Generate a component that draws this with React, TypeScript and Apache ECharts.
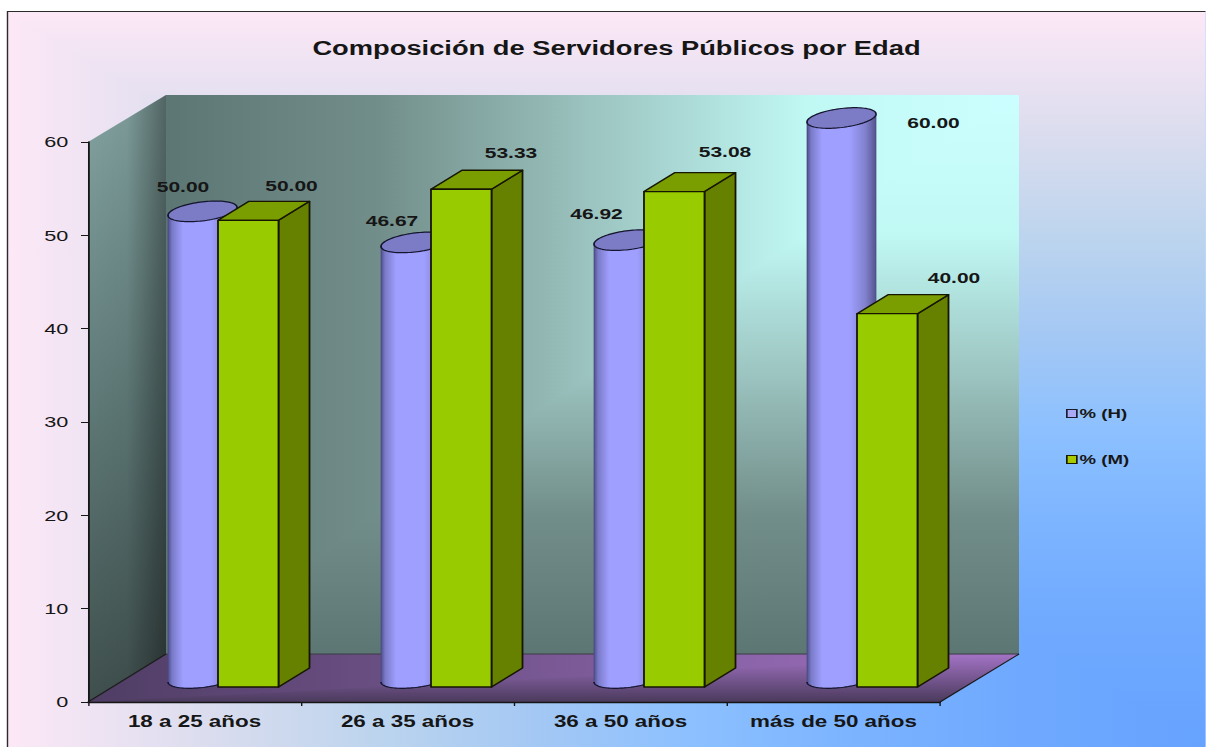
import React, { useEffect, useRef } from "react";
import * as echarts from "echarts";

const categories = ["18 a 25 años", "26 a 35 años", "36 a 50 años", "más de 50 años"];
const valuesH = [50.0, 46.67, 46.92, 60.0];
const valuesM = [50.0, 53.33, 53.08, 40.0];
const yTicks = { min: 0, max: 60, interval: 10 };
const titleText = "Composición de Servidores Públicos por Edad";

// The reference is a horizontally stretched picture: the chart is laid out narrower and stretched by CSS.
const S = 1.4;
const sx = (p: number) => p / S;
const W = 1206;
const H = 747;
const FONT = '"Liberation Sans", Arial, sans-serif';
const INK = "#161616";

// label placement relative to the category centre / value position (final pixels), hand-moved in the reference
const labelOffsetH = [[-11.5, -49], [-15.5, -45.5], [-24, -50], [100, -19.5]];
const labelOffsetM = [[97, -50], [103.5, -52], [104.5, -54.5], [120.5, -51.5]];

type Stops = [number, string][];
const lin = (x2: number, y2: number, stops: Stops) => ({
  type: "linear", x: 0, y: 0, x2, y2,
  colorStops: stops.map(([offset, color]) => ({ offset, color })),
});
const poly = (pts: number[][], fill: any, z = -10) => ({
  type: "polygon", silent: true, z,
  shape: { points: pts.map(([x, y]) => [sx(x), y]) },
  style: { fill },
});
const line = (pts: number[][], color: string, width: number, z = -13) => ({
  type: "polyline", silent: true, z,
  shape: { points: pts.map(([x, y]) => [sx(x), y]) },
  style: { stroke: color, lineWidth: width, fill: "none" },
});

// background: corner gradient, lightest along left and top edges, blue at the lower right
const bgStops: Stops = [
  [0, "#fde8f6"], [0.18, "#d8dcee"], [0.31, "#bcd4ee"], [0.44, "#a4c8f4"],
  [0.57, "#8cc0ff"], [0.7, "#7cb4ff"], [0.83, "#70aaff"], [1, "#66a3ff"],
];
// back wall: corner gradient, brightest at the upper right
const wallStops: Stops = [
  [0, "#5c7674"], [0.25, "#728e8a"], [0.5, "#9cc4c0"], [0.75, "#c0f8f4"], [1, "#ccffff"],
];
const wallStopsDown: Stops = wallStops.map(([o, c]) => [1 - o, c] as [number, string]).reverse();
const floorStopsRight: Stops = [[0, "#4f3d64"], [1, "#a474c6"]];
const floorStopsDown: Stops = [[0, "#a474c6"], [1, "#4a3a5c"]];

const bgElements = [
  poly([[7, 11], [W, 11], [W, H], [7, H]], lin(1, 0, bgStops), -31),
  poly([[7, 11], [W, 11], [W, H]], lin(0, 1, bgStops), -30),
  line([[7.5, H], [7.5, 11.5], [W, 11.5]], "#2a2a2a", 1, -27),
  // back wall
  poly([[166, 95], [1019, 95], [1019, 654], [166, 654]], lin(1, 0, wallStops), -21),
  poly([[166, 654], [1019, 654], [1019, 95]], lin(0, 1, wallStopsDown), -20),
  // side wall
  poly([[88, 142], [166, 95], [166, 654], [88, 702]], lin(0, 1, [[0, "#83a3a1"], [0.5, "#5f7a78"], [1, "#3f4f4d"]]), -17),
  poly([[88, 142], [166, 95], [166, 654], [88, 702]], lin(1, 0, [[0, "rgba(0,0,0,0)"], [0.5, "rgba(0,0,0,0.05)"], [1, "rgba(0,0,0,0.38)"]]), -16),
  // floor
  poly([[88, 702], [166, 654], [1019, 654], [940, 702]], lin(1, 0, floorStopsRight), -15),
  poly([[88, 702], [1019, 654], [940, 702]], lin(0, 1, floorStopsDown), -14),
  line([[88, 702], [166, 654]], "#1c1c1c", 1),
  line([[166, 654], [1019, 654]], "#3a3a44", 0.8),
  line([[940, 702], [1019, 654]], "#1c1c1c", 1),
];

const FLOOR_LIFT = 15;
const DEPTH_X = sx(31);
const DEPTH_Y = 19;

function labelEl(text: string, px: number, py: number, off: number[]) {
  return {
    type: "text",
    z2: 20,
    x: px + sx(off[0]),
    y: py + off[1],
    style: {
      text, x: 0, y: 0, fill: INK, align: "center", verticalAlign: "middle",
      font: `bold 15px ${FONT}`,
    },
  };
}

function renderCylinder(_p: any, api: any) {
  const i = api.value(0);
  const v = api.value(1);
  const top = api.coord([i, v]);
  const base = api.coord([i, 0]);
  const left = top[0] + sx(-26.5);
  const right = top[0] + sx(42.5);
  const cx = (left + right) / 2;
  const rx = (right - left) / 2;
  const ry = 9.5;
  const tilt = 4; // right end higher than left end
  const yTop = top[1] - FLOOR_LIFT - 9;
  const yBase = base[1] - FLOOR_LIFT - 9;
  const pt = (yc: number, a: number) => [cx + rx * Math.cos(a), yc + ry * Math.sin(a) - tilt * Math.cos(a)];
  const steps = 48;
  const bottomArc: number[][] = [];
  for (let k = 0; k <= steps; k++) bottomArc.push(pt(yBase, (Math.PI * k) / steps));
  const body = [pt(yTop, 0), ...bottomArc, pt(yTop, Math.PI)];
  const cap: number[][] = [];
  for (let k = 0; k < steps * 2; k++) cap.push(pt(yTop, (Math.PI * k) / steps));
  return {
    type: "group",
    children: [
      {
        type: "polygon", z2: 1, shape: { points: body },
        style: {
          fill: lin(1, 0, [[0, "#4e4e8c"], [0.06, "#7a7ac8"], [0.22, "#9f9fff"], [0.62, "#9f9fff"], [0.85, "#8080cc"], [1, "#54548f"]]),
          stroke: "#4a4a80", lineWidth: 0.6,
        },
      },
      { type: "polyline", z2: 1, shape: { points: bottomArc }, style: { fill: "none", stroke: "#15152e", lineWidth: 1.2 } },
      { type: "polygon", z2: 2, shape: { points: cap }, style: { fill: "#7b7bc6", stroke: "#15152e", lineWidth: 1.2 } },
      labelEl(valuesH[i].toFixed(2), top[0], top[1], labelOffsetH[i]),
    ],
  };
}

function renderBox(_p: any, api: any) {
  const i = api.value(0);
  const v = api.value(1);
  const top = api.coord([i, v]);
  const base = api.coord([i, 0]);
  const l = top[0] + sx(23.5);
  const r = top[0] + sx(84);
  const yT = top[1] - FLOOR_LIFT;
  const yB = base[1] - FLOOR_LIFT;
  const edge = { stroke: "#161600", lineWidth: 1.3, lineJoin: "round" };
  return {
    type: "group",
    children: [
      { type: "polygon", z2: 3, shape: { points: [[r, yT], [r + DEPTH_X, yT - DEPTH_Y], [r + DEPTH_X, yB - DEPTH_Y], [r, yB]] }, style: { fill: "#668000", ...edge } },
      { type: "polygon", z2: 3, shape: { points: [[l, yT], [l + DEPTH_X, yT - DEPTH_Y], [r + DEPTH_X, yT - DEPTH_Y], [r, yT]] }, style: { fill: "#7a9e00", ...edge } },
      { type: "rect", z2: 4, shape: { x: l, y: yT, width: r - l, height: yB - yT }, style: { fill: "#99cc00", ...edge } },
      labelEl(valuesM[i].toFixed(2), top[0], top[1], labelOffsetM[i]),
    ],
  };
}

export default function App() {
  const ref = useRef<HTMLDivElement>(null);
  useEffect(() => {
    document.body.style.margin = "0";
    document.body.style.background = "#ffffff";
    document.body.style.overflow = "hidden";
    const chart = echarts.init(ref.current!, null, { renderer: "svg" });
    chart.setOption({
      animation: false,
      backgroundColor: "transparent",
      title: {
        text: titleText,
        left: sx(609.5),
        top: 33,
        textAlign: "center",
        textStyle: { fontFamily: FONT, fontWeight: "bold", fontSize: 19.5, color: INK },
      },
      graphic: { elements: bgElements },
      legend: {
        orient: "vertical",
        left: sx(1066),
        top: 407,
        padding: 0,
        itemWidth: sx(10),
        itemHeight: 8,
        itemGap: 33,
        selectedMode: false,
        textStyle: { fontFamily: FONT, fontWeight: "bold", fontSize: 13.3, color: INK, padding: [0, 0, 0, -3] },
        data: [
          { name: "% (H)", icon: "rect", itemStyle: { color: "#a9a9f5", borderColor: "#1a1a33", borderWidth: 1.2 } },
          { name: "% (M)", icon: "rect", itemStyle: { color: "#a8c800", borderColor: "#1a1a00", borderWidth: 1.2 } },
        ],
      },
      grid: { left: sx(88), top: 142, width: sx(852), height: 560, containLabel: false },
      xAxis: {
        type: "category",
        data: categories,
        axisLine: { lineStyle: { color: "#161616", width: 1.3 } },
        axisTick: { show: true, length: 4, alignWithLabel: false, lineStyle: { color: "#161616" } },
        axisLabel: { color: INK, fontFamily: FONT, fontWeight: "bold", fontSize: 16, margin: 11, interval: 0 },
        splitLine: { show: false },
      },
      yAxis: {
        type: "value",
        min: yTicks.min,
        max: yTicks.max,
        interval: yTicks.interval,
        axisLine: { show: true, lineStyle: { color: "#161616", width: 1.3 } },
        axisTick: { show: true, length: 5, lineStyle: { color: "#161616" } },
        axisLabel: { color: INK, fontFamily: FONT, fontWeight: "normal", fontSize: 15.5, margin: 14 },
        splitLine: { show: false },
      },
      series: [
        {
          name: "% (H)", type: "custom", z: 3, renderItem: renderCylinder,
          itemStyle: { color: "#a9a9f5" },
          encode: { x: 0, y: 1 },
          data: valuesH.map((v, i) => [i, v]),
        },
        {
          name: "% (M)", type: "custom", z: 4, renderItem: renderBox,
          itemStyle: { color: "#a8c800" },
          encode: { x: 0, y: 1 },
          data: valuesM.map((v, i) => [i, v]),
        },
      ],
    });
    return () => chart.dispose();
  }, []);
  return (
    <div
      ref={ref}
      style={{
        position: "absolute", left: 0, top: 0, width: W / S, height: H,
        transform: `scaleX(${S})`, transformOrigin: "0 0",
      }}
    />
  );
}
